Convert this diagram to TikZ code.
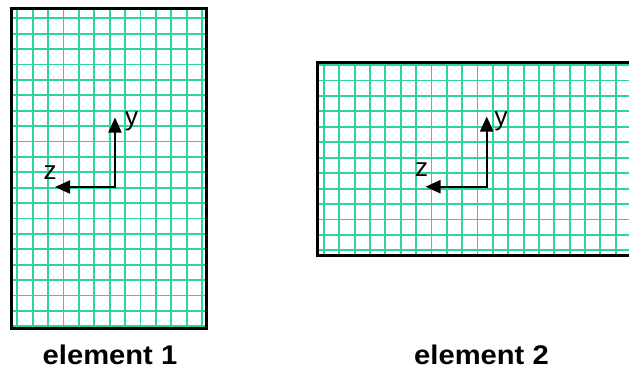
\documentclass[tikz,border=0pt]{standalone}
\usepackage{fontspec}
\setsansfont{Liberation Sans}
\newfontfamily\capfont[FakeStretch=1.08]{Liberation Sans}
\usetikzlibrary{arrows.meta}
\definecolor{cgrid}{HTML}{2ED49C}

\begin{document}
\begin{tikzpicture}[x=1pt,y=-1pt,
  gridline/.style={cgrid,line width=1.9pt},
  frame/.style={draw,line width=3pt},
  axis/.style={{Triangle[length=15pt,width=13pt]}-{Triangle[length=15pt,width=13pt]},line width=2pt},
  axlabel/.style={inner sep=0pt,font=\sffamily\fontsize{26}{26}\selectfont},
  caption/.style={anchor=base,inner sep=0pt,font=\capfont\bfseries\fontsize{27}{30}\selectfont}]
  \useasboundingbox[fill=white] (0,0) rectangle (629,373);
  % element 1
  \foreach \i in {0,...,12} \draw[gridline] (17.3+15.4*\i,10) -- (17.3+15.4*\i,327);
  \foreach \j in {0,...,20} \draw[gridline] (13,18.3+15.4*\j) -- (205,18.3+15.4*\j);
  \draw[frame] (11.5,8.5) rectangle (206.5,328.5);
  \coordinate (y1) at (115,117.5);
  \coordinate (z1) at (55,187);
  \draw[axis] (z1) -| (y1);
  \node[axlabel] (ylab1) at (131.5,121) {y};
  \node[axlabel] (zlab1) at (50,172.5) {z};
  \node[caption] (cap1) at (110,364) {element 1};
  % element 2
  \foreach \i in {0,...,20} \draw[gridline] (324+15.35*\i,63.5) -- (324+15.35*\i,254);
  \foreach \j in {0,...,12} \draw[gridline] (319,65+15.45*\j) -- (640,65+15.45*\j);
  \draw[frame] (317,62) rectangle (645,255.5);
  \coordinate (y2) at (486.7,116.5);
  \coordinate (z2) at (425.5,186.7);
  \draw[axis] (z2) -| (y2);
  \node[axlabel] (ylab2) at (501,121.5) {y};
  \node[axlabel] (zlab2) at (421.5,169.5) {z};
  \node[caption] (cap2) at (481.5,364) {element 2};
\end{tikzpicture}
\end{document}
